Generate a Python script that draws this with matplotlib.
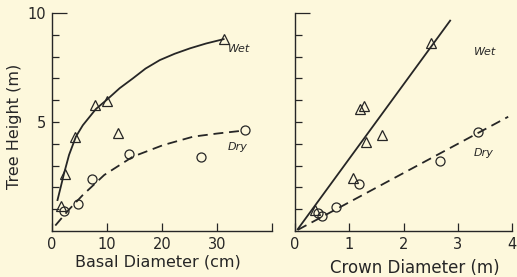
import matplotlib
matplotlib.use("Agg")
import matplotlib.pyplot as plt

# ---- data: left panel (basal diameter, cm) ----
basal_wet_x = [1.6, 2.3, 4.2, 7.9, 10.0, 12.0, 31.2]
basal_wet_y = [1.15, 2.6, 4.3, 5.78, 5.98, 4.51, 8.81]
basal_dry_x = [2.2, 4.8, 7.3, 14.0, 27.0, 35.1]
basal_dry_y = [0.93, 1.24, 2.39, 3.52, 3.38, 4.63]
# fitted curves
basal_wet_fit_x = [1.0, 1.6, 2.2, 3.1, 4.35, 5.6, 8.0, 10.1, 12.3, 14.7, 17.0, 19.6, 22.3, 25.1, 28.0, 31.2]
basal_wet_fit_y = [1.42, 2.03, 2.65, 3.49, 4.33, 4.85, 5.6, 6.05, 6.55, 7.0, 7.45, 7.84, 8.13, 8.38, 8.6, 8.8]
basal_dry_fit_x = [0.6, 3.0, 5.6, 9.5, 14.7, 20.2, 25.7, 30.0, 34.6]
basal_dry_fit_y = [0.25, 0.96, 1.65, 2.57, 3.41, 3.94, 4.33, 4.47, 4.6]

# ---- data: right panel (crown diameter, m) ----
crown_wet_x = [0.37, 1.07, 1.19, 1.28, 1.30, 1.60, 2.51]
crown_wet_y = [0.97, 2.42, 5.58, 5.73, 4.10, 4.40, 8.64]
crown_dry_x = [0.43, 0.50, 0.76, 1.18, 2.68, 3.38]
crown_dry_y = [0.81, 0.70, 1.11, 2.14, 3.21, 4.53]
crown_wet_fit_x = [0.05, 2.86]
crown_wet_fit_y = [0.08, 9.65]
crown_dry_fit_x = [0.05, 3.93]
crown_dry_fit_y = [0.05, 5.24]

left_xticks = [0, 10, 20, 30, 40]
left_xticklabels = ["0", "10", "20", "30", ""]
right_xticks = [0, 1, 2, 3, 4]
right_xticklabels = ["0", "1", "2", "3", "4"]
yticks = [1, 2, 3, 4, 5, 6, 7, 8, 9, 10]
left_yticklabels = ["", "", "", "", "5", "", "", "", "", "10"]

INK = "#262626"
BG = "#fdf8dc"

plt.rcParams["font.family"] = ["DejaVu Sans"]

fig = plt.figure(figsize=(5.17, 2.77), dpi=100, facecolor=BG)
W, H = 517, 277
axL = fig.add_axes([52 / W, (H - 231) / H, 220 / W, 218 / H])
axR = fig.add_axes([295 / W, (H - 231) / H, 217 / W, 218 / H])

mk = dict(markerfacecolor="none", markeredgecolor=INK, markeredgewidth=0.9,
          linestyle="none", color=INK)

for ax in (axL, axR):
    ax.set_facecolor(BG)
    for s in ("top", "right"):
        ax.spines[s].set_visible(False)
    for s in ("left", "bottom"):
        ax.spines[s].set_color(INK)
        ax.spines[s].set_linewidth(1.0)
    ax.set_ylim(0, 10)
    ax.set_yticks(yticks)
    ax.tick_params(direction="in", length=5, width=0.9, color=INK,
                   labelcolor=INK, labelsize=10.5)
    ax.tick_params(axis="x", length=6, pad=4)
    ax.tick_params(axis="y", pad=4)
    ax.yaxis.get_major_ticks()[-1].tick1line.set_markersize(11)

# left panel
axL.set_xlim(0, 40)
axL.set_xticks(left_xticks, left_xticklabels)
axL.set_yticklabels(left_yticklabels)
axL.plot(basal_wet_fit_x, basal_wet_fit_y, color=INK, lw=1.3)
axL.plot(basal_dry_fit_x, basal_dry_fit_y, color=INK, lw=1.3, dashes=(5.5, 3.2))
axL.plot(basal_wet_x, basal_wet_y, marker="^", markersize=7.5, **mk)
axL.plot(basal_dry_x, basal_dry_y, marker="o", markersize=6.5, **mk)
axL.text(32.0, 8.35, "Wet", fontsize=8, style="italic", color=INK, va="center", ha="left")
axL.text(32.0, 3.84, "Dry", fontsize=8, style="italic", color=INK, va="center", ha="left")
axL.set_xlabel("Basal Diameter (cm)", fontsize=11.5, color=INK)
axL.xaxis.set_label_coords(0.48, -0.11)
axL.set_ylabel("Tree Height (m)", fontsize=11.5, color=INK)
axL.yaxis.set_label_coords(-0.135, 0.48)

# right panel
axR.set_xlim(0, 4)
axR.set_xticks(right_xticks, right_xticklabels)
axR.set_yticklabels([])
axR.plot(crown_wet_fit_x, crown_wet_fit_y, color=INK, lw=1.3)
axR.plot(crown_dry_fit_x, crown_dry_fit_y, color=INK, lw=1.3, dashes=(5.5, 3.2))
axR.plot(crown_wet_x, crown_wet_y, marker="^", markersize=7.5, **mk)
axR.plot(crown_dry_x, crown_dry_y, marker="o", markersize=6.5, **mk)
axR.text(3.29, 8.2, "Wet", fontsize=8, style="italic", color=INK, va="center", ha="left")
axR.text(3.30, 3.56, "Dry", fontsize=8, style="italic", color=INK, va="center", ha="left")
axR.set_xlabel("Crown Diameter (m)", fontsize=12, color=INK)
axR.xaxis.set_label_coords(0.55, -0.13)

fig.savefig("out.png", dpi=100, facecolor=BG)
